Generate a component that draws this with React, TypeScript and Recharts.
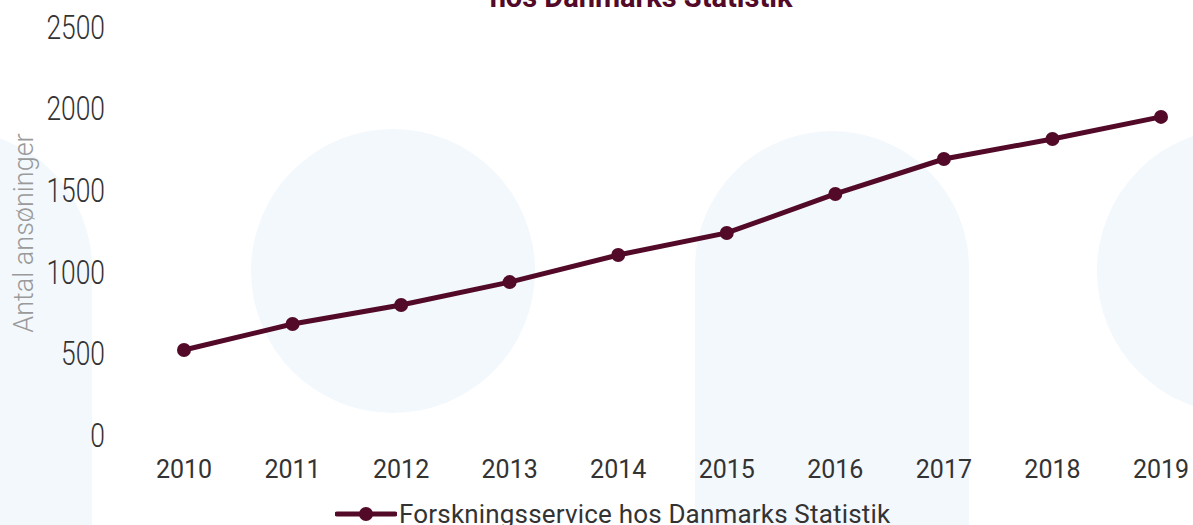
import React from 'react';
import { LineChart, Line, XAxis, YAxis, Legend } from 'recharts';

// værdier
const YEARS = ['2010', '2011', '2012', '2013', '2014', '2015', '2016', '2017', '2018', '2019'];
const APPLICATIONS = [521, 680, 797, 937, 1103, 1238, 1477, 1691, 1814, 1949];
const Y_TICKS = [0, 500, 1000, 1500, 2000, 2500];
const SERIES_NAME = 'Forskningsservice hos Danmarks Statistik';
const Y_LABEL = 'Antal ansøninger';
const TITLE = 'hos Danmarks Statistik';

const MAROON = '#520a28';
const BG_BLUE = '#f3f8fd';

const data = YEARS.map((year, i) => ({ year, value: APPLICATIONS[i] }));

const YTick = (props: any) => {
  const { x, y, payload } = props;
  return (
    <g transform={`translate(${x},${y})`}>
      <text
        transform="scale(0.8,1)"
        textAnchor="end"
        dy="0.355em"
        fontSize={33}
        fontWeight={300}
        fill="#333"
        fontFamily="Roboto"
      >
        {payload.value}
      </text>
    </g>
  );
};

const YLabel = (props: any) => {
  const { viewBox } = props;
  const cx = 23;
  const cy = viewBox.y + viewBox.height / 2 + 2;
  return (
    <text
      x={cx}
      y={cy}
      transform={`rotate(-90 ${cx} ${cy})`}
      textAnchor="middle"
      dy="0.355em"
      fontSize={27}
      fontWeight={300}
      fill="#9a9a9a"
      fontFamily="Roboto"
    >
      {Y_LABEL}
    </text>
  );
};

const LegendContent = () => (
  <div style={{ display: 'flex', alignItems: 'center', height: 30, paddingLeft: 335, paddingTop: 4 }}>
    <svg width={62} height={16} style={{ marginRight: 2 }}>
      <line x1={2} y1={8} x2={60} y2={8} stroke={MAROON} strokeWidth={5} strokeLinecap="round" />
      <circle cx={31} cy={8} r={7} fill={MAROON} />
    </svg>
    <span style={{ fontFamily: 'Roboto', fontSize: 26, color: '#333', letterSpacing: 0.18, lineHeight: '30px' }}>
      {SERIES_NAME}
    </span>
  </div>
);

const App: React.FC = () => {
  return (
    <div style={{ position: 'fixed', left: 0, top: 0, width: 1193, height: 525, overflow: 'hidden', background: '#fff' }}>
      {/* baggrundsfigurer */}
      <svg width={1193} height={525} style={{ position: 'absolute', left: 0, top: 0 }}>
        <path d="M -182 268 A 137 137 0 0 1 92 268 L 92 525 L -182 525 Z" fill={BG_BLUE} />
        <circle cx={393} cy={271} r={142} fill={BG_BLUE} />
        <path d="M 695 268 A 137 137 0 0 1 969 268 L 969 525 L 695 525 Z" fill={BG_BLUE} />
        <circle cx={1240} cy={271} r={143} fill={BG_BLUE} />
      </svg>

      <div
        style={{
          position: 'absolute',
          left: 641,
          top: -17,
          transform: 'translateX(-50%)',
          whiteSpace: 'nowrap',
          fontFamily: 'Roboto',
          fontWeight: 700,
          fontSize: 29,
          lineHeight: '29px',
          letterSpacing: 0,
          color: MAROON,
        }}
      >
        {TITLE}
      </div>

      <div style={{ position: 'absolute', left: 0, top: 0 }}>
        <LineChart width={1193} height={525} data={data} margin={{ top: 27, right: 0, left: 0, bottom: 0 }}>
          <XAxis
            dataKey="year"
            axisLine={false}
            tickLine={false}
            tickSize={0}
            tickMargin={25}
            height={60}
            padding={{ left: 74, right: 32 }}
            tick={{ fontSize: 25, fill: '#333', fontFamily: 'Roboto' }}
            interval={0}
          />
          <YAxis
            domain={[0, 2500]}
            ticks={Y_TICKS}
            width={110}
            axisLine={false}
            tickLine={false}
            tickSize={0}
            tickMargin={5}
            tick={<YTick />}
            label={<YLabel />}
          />
          <Legend verticalAlign="bottom" height={30} content={<LegendContent />} />
          <Line
            type="linear"
            dataKey="value"
            name={SERIES_NAME}
            stroke={MAROON}
            strokeWidth={5}
            dot={{ r: 7, fill: MAROON, stroke: 'none' }}
            activeDot={false}
            isAnimationActive={false}
          />
        </LineChart>
      </div>
    </div>
  );
};

export default App;
